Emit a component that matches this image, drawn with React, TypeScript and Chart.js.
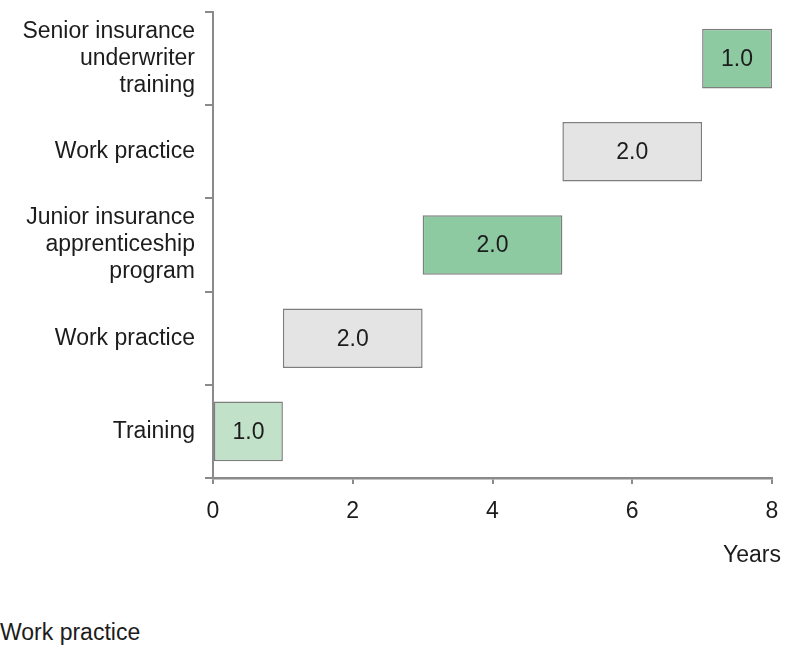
import React, { useEffect, useRef } from "react";
import { Chart, registerables } from "chart.js";

Chart.register(...registerables);

// Career path stages, listed top to bottom
const stageLabels: string[][] = [
  ["Senior insurance", "underwriter", "training"],
  ["Work practice"],
  ["Junior insurance", "apprenticeship", "program"],
  ["Work practice"],
  ["Training"],
];
const stageStart: number[] = [7, 5, 3, 1, 0];
const stageEnd: number[] = [8, 7, 5, 3, 1];
const stageColors: string[] = ["#8dc9a1", "#e4e4e4", "#8dc9a1", "#e4e4e4", "#c1e2c8"];
const xTickValues: number[] = [0, 2, 4, 6, 8];
const axisTitle = "Years";
const footnote = "Work practice";

const FONT = "'Liberation Sans', Arial, sans-serif";
const TEXT = "#1c1c1c";
const AXIS = "#8a8a8a";

export default function App() {
  const canvasRef = useRef<HTMLCanvasElement | null>(null);

  useEffect(() => {
    const canvas = canvasRef.current;
    if (!canvas) return;

    // Writes each stage's duration in the middle of its bar, plus the axis title
    const labelPlugin = {
      id: "durationLabels",
      afterDatasetsDraw(chart: any) {
        const ctx = chart.ctx;
        const meta = chart.getDatasetMeta(0);
        ctx.save();
        ctx.font = `23px ${FONT}`;
        ctx.fillStyle = TEXT;
        ctx.textAlign = "center";
        ctx.textBaseline = "middle";
        meta.data.forEach((bar: any, i: number) => {
          const dur = stageEnd[i] - stageStart[i];
          const x = (bar.x + bar.base) / 2;
          ctx.fillText(dur.toFixed(1), x, bar.y + 1);
        });
        ctx.textAlign = "right";
        ctx.textBaseline = "alphabetic";
        ctx.fillText(axisTitle, chart.chartArea.right + 9, 562);
        ctx.restore();
      },
    };

    const chart = new Chart(canvas, {
      type: "bar",
      data: {
        labels: stageLabels,
        datasets: [
          {
            data: stageStart.map((s, i) => [s, stageEnd[i]]) as any,
            backgroundColor: stageColors,
            borderColor: "#7e7e7e",
            borderWidth: 1.5,
            borderSkipped: false,
            barPercentage: 1,
            categoryPercentage: 0.64,
          },
        ],
      },
      options: {
        indexAxis: "y",
        responsive: false,
        animation: false,
        devicePixelRatio: 1,
        layout: { padding: { top: 12, right: 21, bottom: 0, left: 0 } },
        plugins: {
          legend: { display: false },
          tooltip: { enabled: false },
        },
        scales: {
          x: {
            type: "linear",
            min: 0,
            max: 8,
            afterBuildTicks: (scale: any) => {
              scale.ticks = xTickValues.map((v) => ({ value: v }));
            },
            afterFit: (scale: any) => {
              scale.height = 122;
            },
            grid: {
              drawOnChartArea: false,
              drawTicks: true,
              tickLength: 6,
              color: AXIS,
              lineWidth: 2,
            },
            border: { display: true, color: AXIS, width: 2.5 },
            ticks: {
              color: TEXT,
              font: { family: FONT, size: 23 },
              padding: 14,
              maxRotation: 0,
            },
          },
          y: {
            afterFit: (scale: any) => {
              scale.width = 213;
              scale.paddingTop = 0;
              scale.paddingBottom = 0;
            },
            grid: {
              drawOnChartArea: false,
              drawTicks: true,
              tickLength: 8,
              color: AXIS,
              lineWidth: 2,
              offset: true,
            },
            border: { display: true, color: AXIS, width: 2 },
            ticks: {
              color: TEXT,
              font: { family: FONT, size: 23, lineHeight: 1.17 },
              padding: 10,
            },
          },
        },
      },
      plugins: [labelPlugin],
    });

    return () => chart.destroy();
  }, []);

  return (
    <div
      style={{
        position: "absolute",
        left: 0,
        top: 0,
        width: 793,
        height: 659,
        background: "#ffffff",
        overflow: "hidden",
      }}
    >
      <canvas ref={canvasRef} width={793} height={600} style={{ display: "block" }} />
      <div
        style={{
          position: "absolute",
          left: 0,
          top: 619,
          fontFamily: FONT,
          fontSize: 23,
          lineHeight: "27px",
          color: TEXT,
          whiteSpace: "nowrap",
        }}
      >
        {footnote}
      </div>
    </div>
  );
}
